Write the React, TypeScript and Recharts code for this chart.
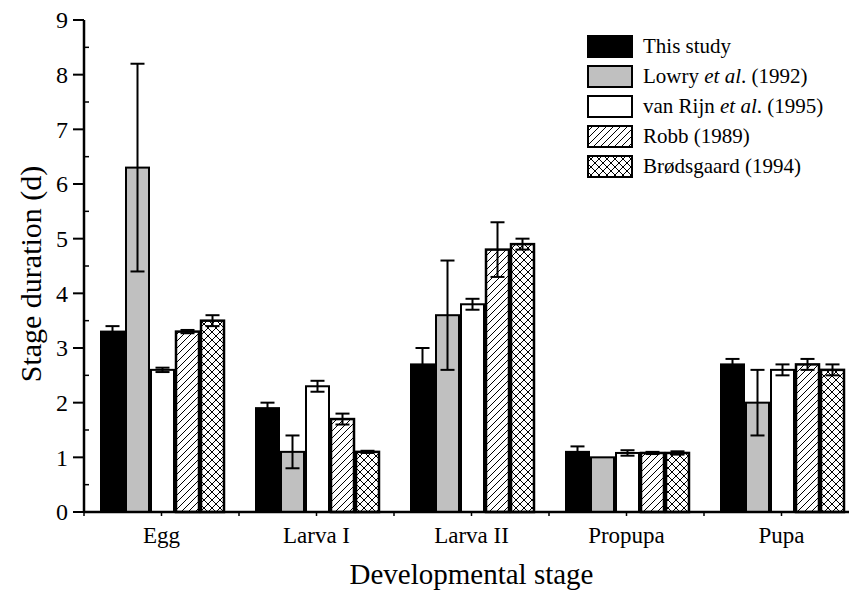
import React from 'react';
import { BarChart, Bar, XAxis, YAxis } from 'recharts';

// ---- data ----
const categories = ['Egg', 'Larva I', 'Larva II', 'Propupa', 'Pupa'];
const seriesNames = ['This study', 'Lowry et al. (1992)', 'van Rijn et al. (1995)', 'Robb (1989)', 'Brødsgaard (1994)'];
const thisStudy = [3.3, 1.9, 2.7, 1.1, 2.7];
const thisStudyErr = [0.1, 0.1, 0.3, 0.1, 0.1];
const lowry = [6.3, 1.1, 3.6, 1.0, 2.0];
const lowryErr = [1.9, 0.3, 1.0, 0, 0.6];
const vanRijn = [2.6, 2.3, 3.8, 1.08, 2.6];
const vanRijnErr = [0.04, 0.1, 0.1, 0.05, 0.1];
const robb = [3.3, 1.7, 4.8, 1.08, 2.7];
const robbErr = [0.03, 0.1, 0.5, 0.02, 0.1];
const brodsgaard = [3.5, 1.1, 4.9, 1.08, 2.6];
const brodsgaardErr = [0.1, 0.02, 0.1, 0.03, 0.1];
const yTicks = [0, 0.5, 1, 1.5, 2, 2.5, 3, 3.5, 4, 4.5, 5, 5.5, 6, 6.5, 7, 7.5, 8, 8.5, 9];

const values = [thisStudy, lowry, vanRijn, robb, brodsgaard];
const errors = [thisStudyErr, lowryErr, vanRijnErr, robbErr, brodsgaardErr];

const data = categories.map((stage, i) => {
  const row: Record<string, any> = { stage };
  values.forEach((arr, s) => {
    row['s' + s] = arr[i];
    row['e' + s] = errors[s][i];
  });
  return row;
});

// ---- styles ----
const FONT = '"Liberation Serif", "Times New Roman", serif';
const fills = ['#000000', '#c0c0c0', '#ffffff', 'url(#hatch)', 'url(#cross)'];
const strokeWidths = [2, 2, 2, 2.5, 2.5];
const CAP = 14;

const Y_TICK_SIZE = 11;
const Y_TICK_MARGIN = 5;

const YTick = (props: any) => {
  const { x, y, payload } = props;
  const v = payload.value;
  const axisX = x + Y_TICK_SIZE + Y_TICK_MARGIN;
  const major = Math.abs(v - Math.round(v)) < 1e-9;
  return (
    <g>
      {major ? (
        <line x1={axisX - Y_TICK_SIZE} x2={axisX} y1={y} y2={y} stroke="#000" strokeWidth={2} />
      ) : (
        <line x1={axisX} x2={axisX + 5} y1={y} y2={y} stroke="#000" strokeWidth={1.5} />
      )}
      {major && (
        <text x={x} y={y} dy="0.35em" textAnchor="end" fontFamily={FONT} fontSize={24} fill="#000">
          {v}
        </text>
      )}
    </g>
  );
};

const XTick = (props: any) => {
  const { x, y, payload } = props;
  const off = payload && payload.offset ? payload.offset : 0;
  const axisY = y - 4;
  return (
    <g>
      <line x1={x} x2={x} y1={axisY} y2={axisY + 4} stroke="#000" strokeWidth={1.5} />
      {off > 0 && <line x1={x - off} x2={x - off} y1={axisY} y2={axisY + 4} stroke="#000" strokeWidth={1.5} />}
      <text x={x} y={axisY + 31} textAnchor="middle" fontFamily={FONT} fontSize={23} fill="#000">
        {payload.value}
      </text>
    </g>
  );
};

// bar rectangle + its error bar; pixel length of the error comes from the bar's own scaled height
const makeShape = (s: number) => (props: any) => {
  const { x, y, width, height, payload } = props;
  const v = payload['s' + s];
  const err = payload['e' + s];
  const ppu = v ? height / v : 0;
  const cx = x + width / 2;
  const e = err * ppu;
  return (
    <g>
      <rect x={x} y={y} width={width} height={height} fill={fills[s]} stroke="#000" strokeWidth={strokeWidths[s]} />
      {err > 0 && (
        <g stroke="#000" strokeWidth={2}>
          <line x1={cx} x2={cx} y1={y - e} y2={y + e} />
          <line x1={cx - CAP / 2} x2={cx + CAP / 2} y1={y - e} y2={y - e} />
          <line x1={cx - CAP / 2} x2={cx + CAP / 2} y1={y + e} y2={y + e} />
        </g>
      )}
    </g>
  );
};

const renderName = (n: string) => {
  const idx = n.indexOf('et al');
  if (idx < 0) return n;
  return (
    <>
      {n.slice(0, idx)}
      <i>et al</i>
      {n.slice(idx + 5)}
    </>
  );
};

const LegendBox = () => (
  <div style={{ position: 'absolute', left: 587, top: 31, fontFamily: FONT, fontSize: 21, color: '#000', lineHeight: 1 }}>
    {seriesNames.map((n, i) => (
      <div key={i} style={{ display: 'flex', alignItems: 'center', height: 30, whiteSpace: 'nowrap' }}>
        <svg width={46} height={23} style={{ marginRight: 10, display: 'block' }}>
          <rect x={1} y={1} width={44} height={21} fill={fills[i]} stroke="#000" strokeWidth={2} />
        </svg>
        <span>{renderName(n)}</span>
      </div>
    ))}
  </div>
);

export default function App() {
  return (
    <div style={{ position: 'absolute', left: 0, top: 0, width: 849, height: 595, overflow: 'hidden', background: '#fff' }}>
      <BarChart
        width={870}
        height={595}
        data={data}
        margin={{ top: 20, right: 11, bottom: 0, left: 0 }}
        barCategoryGap={17}
        barGap={2}
      >
        <defs>
          <pattern id="hatch" patternUnits="userSpaceOnUse" width={7} height={7}>
            <rect x={0} y={0} width={7} height={7} fill="#fff" />
            <path d="M0,7 L7,0 M-1,1 L1,-1 M6,8 L8,6" stroke="#000" strokeWidth={1} />
          </pattern>
          <pattern id="cross" patternUnits="userSpaceOnUse" width={8} height={8}>
            <rect x={0} y={0} width={8} height={8} fill="#fff" />
            <path d="M0,8 L8,0 M-1,1 L1,-1 M7,9 L9,7 M0,0 L8,8 M-1,7 L1,9 M7,-1 L9,1" stroke="#000" strokeWidth={1} />
          </pattern>
        </defs>
        <XAxis
          dataKey="stage"
          height={83}
          tickSize={4}
          tickMargin={0}
          tickLine={false}
          interval={0}
          tick={<XTick />}
          axisLine={{ stroke: '#000', strokeWidth: 2.5 }}
          label={{ value: 'Developmental stage', position: 'insideBottom', offset: 11, fontFamily: FONT, fontSize: 29, fill: '#000' }}
        />
        <YAxis
          type="number"
          domain={[0, 9]}
          ticks={yTicks}
          interval={0}
          width={84}
          tickSize={Y_TICK_SIZE}
          tickMargin={Y_TICK_MARGIN}
          tickLine={false}
          tick={<YTick />}
          axisLine={{ stroke: '#000', strokeWidth: 2.5 }}
          label={{ value: 'Stage duration (d)', angle: -90, position: 'center', dx: -12, dy: 8, fontFamily: FONT, fontSize: 30, fill: '#000' }}
        />
        {values.map((_, s) => (
          <Bar
            key={s}
            dataKey={'s' + s}
            name={seriesNames[s]}
            fill={fills[s]}
            stroke="#000"
            strokeWidth={strokeWidths[s]}
            shape={makeShape(s)}
            isAnimationActive={false}
          />
        ))}
      </BarChart>
      <LegendBox />
    </div>
  );
}
